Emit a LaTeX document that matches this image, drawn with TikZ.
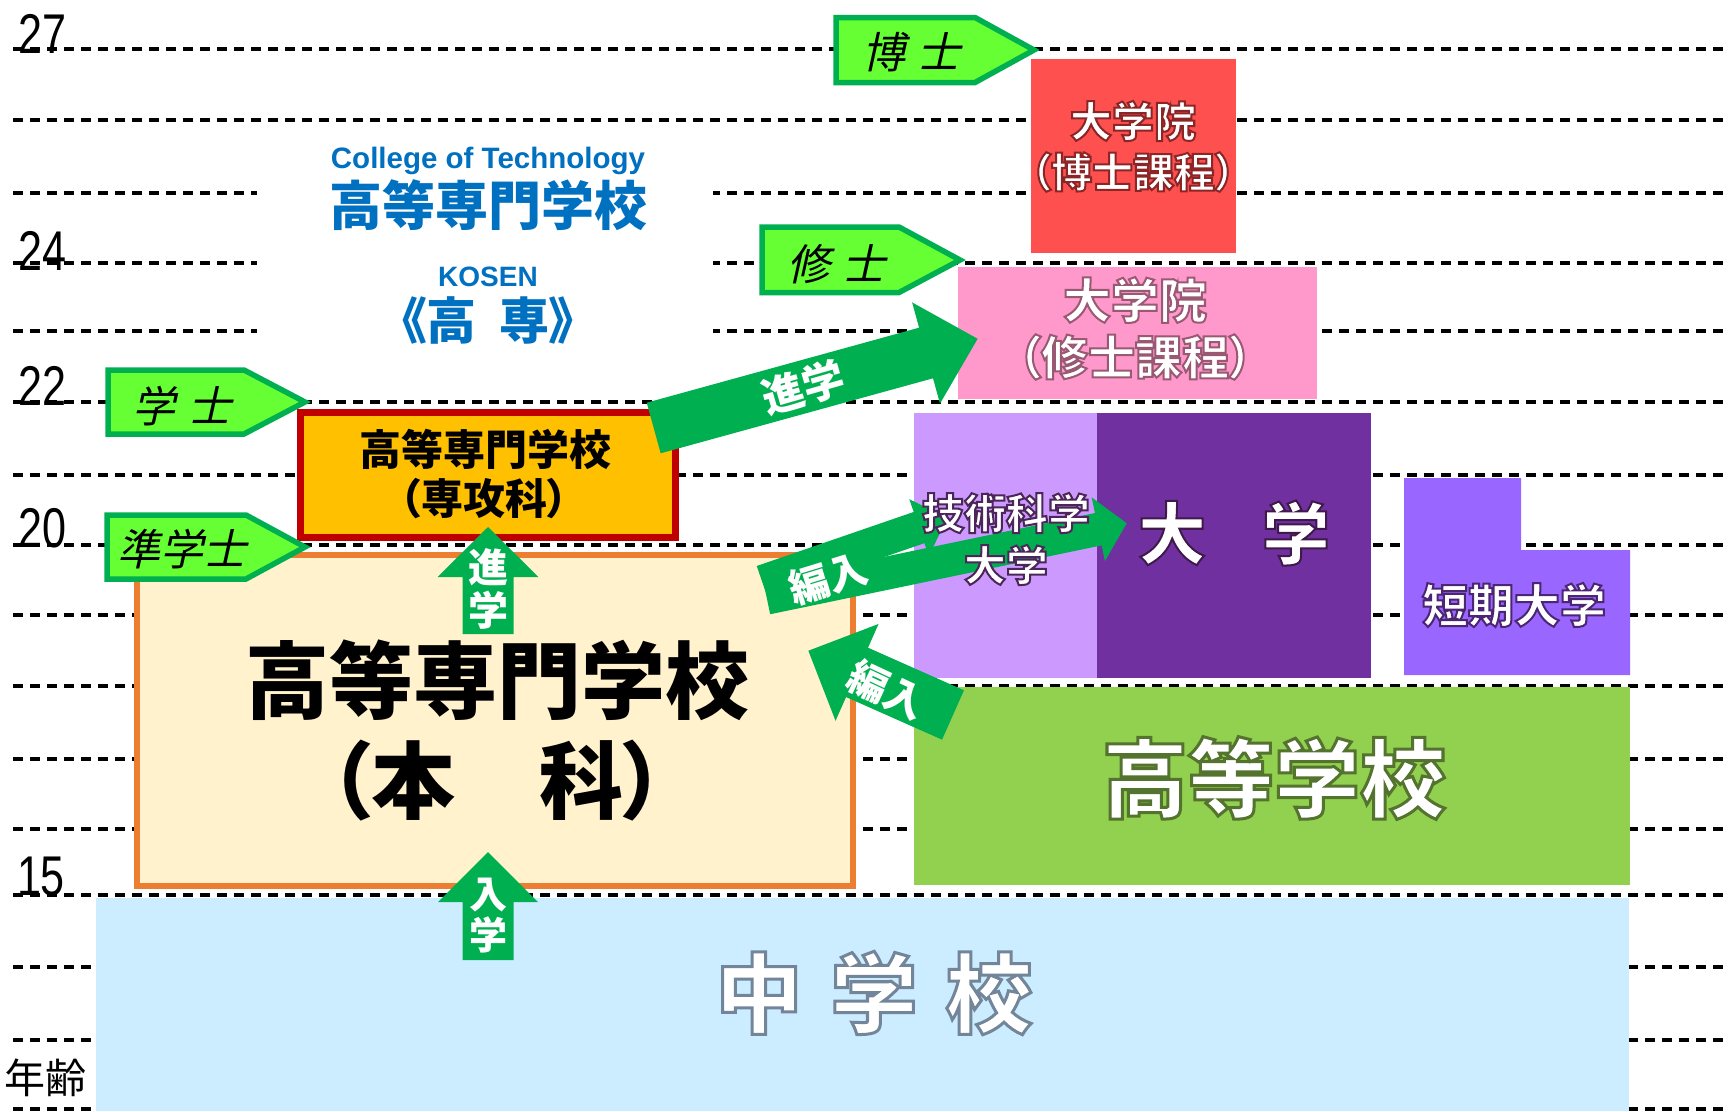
\documentclass[tikz,border=0pt]{standalone}
\usepackage{fontspec}
\usepackage{graphicx}
\newfontfamily\jp{Noto Sans CJK JP}
\newfontfamily\jpp{Noto Sans CJK JP}[RawFeature=+palt]
\newfontfamily\jpi{Noto Sans CJK JP}[FakeSlant=0.22]
\newfontfamily\lib{Liberation Sans}
\newcommand\fsz[1]{\fontsize{#1}{#1}\selectfont}
\newcommand\agenum[1]{\scalebox{0.77}[1]{#1}}
\newcommand\outl[3]{\special{pdf:literal direct 2 Tr #1 w #2 RG}#3\special{pdf:literal direct 0 Tr}}
\newcommand\bigarr[7]{%
  \fill[arrg, shift={(#1,#2)}, rotate=#3] (0,{-#6/2}) -- (#5,{-#6/2}) -- (#5,{-#7/2}) -- (#4,0) -- (#5,{#7/2}) -- (#5,{#6/2}) -- (0,{#6/2}) -- cycle;}
\definecolor{arrg}{HTML}{00B050}
\definecolor{tagg}{HTML}{66FF33}
\definecolor{redb}{HTML}{FF5050}
\definecolor{pinkb}{HTML}{FF99CC}
\definecolor{lpur}{HTML}{CC99FF}
\definecolor{dpur}{HTML}{7030A0}
\definecolor{mpur}{HTML}{9966FF}
\definecolor{grnb}{HTML}{92D050}
\definecolor{blub}{HTML}{CCECFF}
\definecolor{orgb}{HTML}{ED7D31}
\definecolor{crmb}{HTML}{FFF2CC}
\definecolor{yelb}{HTML}{FFC000}
\definecolor{drdb}{HTML}{C00000}
\definecolor{ttl}{HTML}{0070C0}
\begin{document}
\begin{tikzpicture}[x=1pt,y=-1pt,
  gridline/.style={line width=3.2pt, dash pattern=on 9.5pt off 7.5pt},
  tagbox/.style={fill=tagg, draw=arrg, line width=5.5pt},
  plain/.style={inner sep=0pt, outer sep=0pt},
  agelab/.style={plain, anchor=base west, font=\lib\fsz{56}},
  wtxt/.style={plain, text=white},
  arrtxt/.style={plain, text=white},
]
\useasboundingbox (0,0) rectangle (1729,1111);
\fill[white] (0,0) rectangle (1729,1111);
% age grid
\foreach \yy in {49,120,193,263,331,402,475,545,615,686,759,829,895,967,1040,1109}
  \draw[gridline] (13,\yy) -- (1729,\yy);
\fill[white] (257,140) rectangle (713,345);
% age labels
\node[agelab] (a27) at (19,53) {\agenum{27}};
\node[agelab] (a24) at (19,270) {\agenum{24}};
\node[agelab] (a22) at (19,405) {\agenum{22}};
\node[agelab] (a20) at (19,547) {\agenum{20}};
\node[agelab] (a15) at (17,895) {\agenum{15}};
\node[plain, font=\jp\fsz{41}] (nenrei) at (46,1078) {年齢};
% boxes
\fill[blub] (96,898) rectangle (1629,1111);
\fill[grnb] (914,687) rectangle (1630,885);
\fill[lpur] (914,413) rectangle (1097,678);
\fill[dpur] (1097,413) rectangle (1371,678);
\fill[mpur] (1404,478) -- (1521,478) -- (1521,550) -- (1630,550) -- (1630,675) -- (1404,675) -- cycle;
\fill[redb] (1031,59) rectangle (1236,253);
\fill[pinkb] (958,267) rectangle (1317,399);
\draw[orgb, fill=crmb, line width=6pt] (137,555) rectangle (853,886);
\draw[drdb, fill=yelb, line width=7pt] (300.5,412.5) rectangle (675.5,537.5);
% degree tags
\draw[tagbox] (836,17.5) -- (975,17.5) -- (1034,50) -- (975,82.5) -- (836,82.5) -- cycle;
\draw[tagbox] (762,227) -- (899,227) -- (960,260) -- (899,292.5) -- (762,292.5) -- cycle;
\draw[tagbox] (108,370) -- (244,370) -- (305,402) -- (244,434) -- (108,434) -- cycle;
\draw[tagbox] (107,515) -- (246,515) -- (305,547) -- (246,579) -- (107,579) -- cycle;
% block arrows
\bigarr{653.7}{428}{15.4}{336}{282.5}{52.5}{105}
\bigarr{762.1}{581.6}{19}{196}{166}{33}{60}
\bigarr{766.8}{598.1}{11.74}{367.6}{338.6}{33}{65}
\bigarr{953}{715}{156.04}{158.3}{105}{54}{106}
\bigarr{488}{634}{90}{107}{57}{51}{101}
\bigarr{488}{960}{90}{108}{58}{51}{100}
% title
\node[plain, anchor=base, text=ttl, font=\lib\bfseries\fsz{29.5}] (cot) at (488,168) {College of Technology};
\node[plain, text=ttl, font=\jp\bfseries\fsz{53}] (kosenjp) at (488.5,205) {高等専門学校};
\node[plain, anchor=base, text=ttl, font=\lib\bfseries\fsz{28}] (kosen) at (488,286) {KOSEN};
\node[plain, text=ttl, font=\jpp\bfseries\fsz{50}] (kousen) at (488,320) {《高\hspace{0.45em}専》};
% tag texts
\node[plain, font=\jpi\fsz{43}] (hakase) at (911,52) {博\hspace{12pt}士};
\node[plain, font=\jpi\fsz{43}] (shushi) at (836,264) {修\hspace{12pt}士};
\node[plain, font=\jpi\fsz{43}] (gakushi) at (182,406) {学\hspace{14pt}士};
\node[plain, font=\jpi\fsz{43}] (jungakushi) at (182,549) {準学士};
% arrow texts
\node[arrtxt, rotate=16, font=\jp\bfseries\fsz{42}] (shingakuA) at (803,387) {進学};
\node[arrtxt, rotate=17, font=\jp\bfseries\fsz{40}] (hennyuA) at (828,578) {編入};
\node[arrtxt, rotate=-25, font=\jp\bfseries\fsz{40}] (hennyuB) at (887,690) {編入};
\node[arrtxt, align=center, font=\jp\bfseries\fontsize{40}{43}\selectfont] (shingakuB) at (488,589) {進\\学};
\node[arrtxt, align=center, font=\jp\bfseries\fontsize{38}{41}\selectfont] (nyugaku) at (488,916) {入\\学};
% box texts
\node[plain, font=\jp\bfseries\fsz{84}] (honka1) at (497,680) {高等専門学校};
\node[plain, font=\jpp\bfseries\fsz{84}] (honka2) at (497,781) {（本\hspace{1em}科）};
\node[plain, font=\jp\bfseries\fsz{42}] (senko1) at (485,449) {高等専門学校};
\node[plain, font=\jpp\bfseries\fsz{42}] (senko2) at (484,499) {（専攻科）};
\node[wtxt, font=\jp\bfseries\fsz{42}] (dhak1) at (1133,121) {\outl{2}{0.55 0.15 0.15}{大学院}};
\node[wtxt, font=\jpp\bfseries\fsz{41}] (dhak2) at (1133,172) {\outl{2}{0.55 0.15 0.15}{（博士課程）}};
\node[wtxt, font=\jp\bfseries\fsz{48}] (dshu1) at (1135,300) {\outl{2}{0.6 0.35 0.45}{大学院}};
\node[wtxt, font=\jpp\bfseries\fsz{47}] (dshu2) at (1135,357) {\outl{2}{0.6 0.35 0.45}{（修士課程）}};
\node[wtxt, align=center, font=\jp\bfseries\fontsize{42}{52}\selectfont] (gika) at (1006,539) {\outl{2}{0.3 0.15 0.35}{技術科学\\大学}};
\node[wtxt, font=\jp\bfseries\fsz{68}] (daigaku) at (1234,533) {\outl{2}{0.25 0.1 0.3}{大\hspace{56pt}学}};
\node[wtxt, font=\jp\bfseries\fsz{46}] (tanki) at (1514,605) {\outl{2}{0.3 0.15 0.45}{短期大学}};
\node[wtxt, font=\jp\bfseries\fsz{86}] (koko) at (1274,778) {\outl{3}{0.33 0.45 0.18}{高等学校}};
\node[wtxt, font=\jp\bfseries\fsz{87}] (chu) at (874,993) {\outl{3}{0.45 0.52 0.6}{中\hspace{28pt}学\hspace{28pt}校}};
\end{tikzpicture}
\end{document}
